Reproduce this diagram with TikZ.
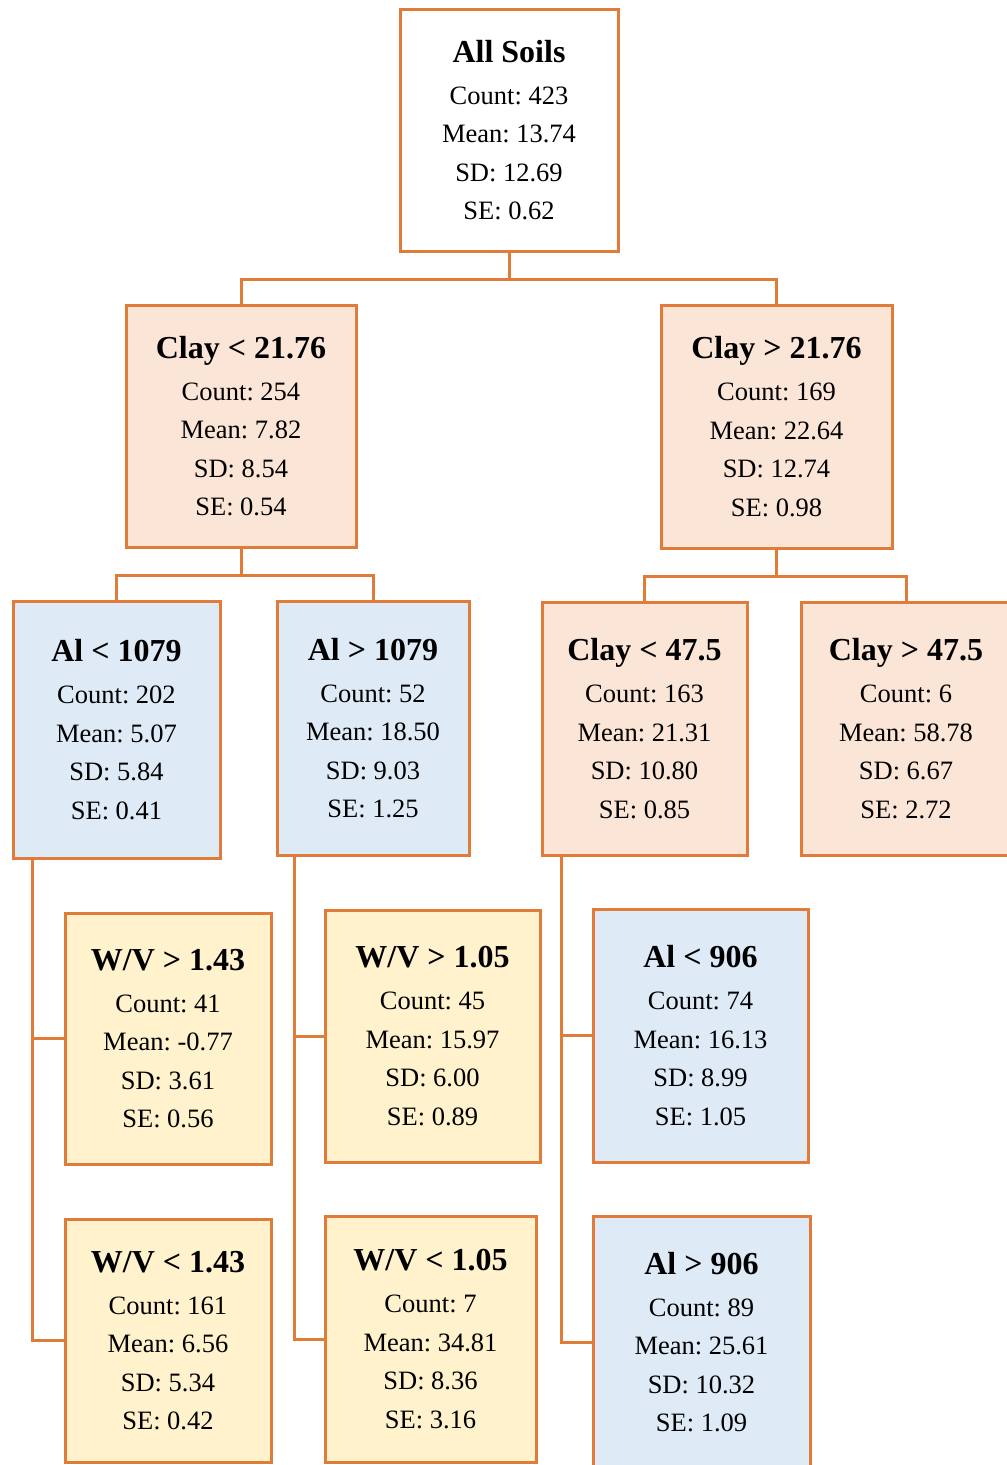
\documentclass[tikz,border=0pt]{standalone}
\usepackage{fontspec}
\setmainfont{Liberation Serif}
\frenchspacing
\definecolor{edge}{HTML}{E07B39}
\definecolor{peach}{HTML}{FBE5D6}
\definecolor{lblue}{HTML}{DEEBF7}
\definecolor{lyellow}{HTML}{FFF2CC}
\newcommand{\ttl}[1]{{\fontsize{32}{38.5}\selectfont\bfseries #1}\\[3.5pt]}
\tikzset{
  box/.style={draw=edge, line width=3pt, inner sep=0pt, align=center,
    font=\fontsize{26.5}{38.5}\selectfont\frenchspacing},
  conn/.style={draw=edge, line width=3pt}
}
\begin{document}
\begin{tikzpicture}[x=1pt,y=1pt]
\useasboundingbox (0,0) rectangle (1007,-1465);
\clip (0,0) rectangle (1007,-1465);
\node[box, fill=white, minimum width=218pt, minimum height=242pt] (root) at (509,-130)
  {\ttl{All Soils}Count: 423\\Mean: 13.74\\SD: 12.69\\SE: 0.62};
\node[box, fill=peach, minimum width=230pt, minimum height=242pt] (c1) at (241,-426)
  {\ttl{Clay < 21.76}Count: 254\\Mean: 7.82\\SD: 8.54\\SE: 0.54};
\node[box, fill=peach, minimum width=231pt, minimum height=243pt] (c2) at (776.5,-426.5)
  {\ttl{Clay > 21.76}Count: 169\\Mean: 22.64\\SD: 12.74\\SE: 0.98};
\node[box, fill=lblue, minimum width=207pt, minimum height=257pt] (a1) at (116.5,-729.5)
  {\ttl{Al < 1079}Count: 202\\Mean: 5.07\\SD: 5.84\\SE: 0.41};
\node[box, fill=lblue, minimum width=192pt, minimum height=254pt] (a2) at (373,-728)
  {\ttl{Al > 1079}Count: 52\\Mean: 18.50\\SD: 9.03\\SE: 1.25};
\node[box, fill=peach, minimum width=205pt, minimum height=253pt] (c3) at (644.5,-728.5)
  {\ttl{Clay < 47.5}Count: 163\\Mean: 21.31\\SD: 10.80\\SE: 0.85};
\node[box, fill=peach, minimum width=210pt, minimum height=253pt] (c4) at (906,-728.5)
  {\ttl{Clay > 47.5}Count: 6\\Mean: 58.78\\SD: 6.67\\SE: 2.72};
\node[box, fill=lyellow, minimum width=206pt, minimum height=251pt] (w1) at (168,-1038.5)
  {\ttl{W/V > 1.43}Count: 41\\Mean: -0.77\\SD: 3.61\\SE: 0.56};
\node[box, fill=lyellow, minimum width=206pt, minimum height=243pt] (w2) at (168,-1340.5)
  {\ttl{W/V < 1.43}Count: 161\\Mean: 6.56\\SD: 5.34\\SE: 0.42};
\node[box, fill=lyellow, minimum width=215pt, minimum height=252pt] (w3) at (432.5,-1036)
  {\ttl{W/V > 1.05}Count: 45\\Mean: 15.97\\SD: 6.00\\SE: 0.89};
\node[box, fill=lyellow, minimum width=211pt, minimum height=246pt] (w4) at (430.5,-1339)
  {\ttl{W/V < 1.05}Count: 7\\Mean: 34.81\\SD: 8.36\\SE: 3.16};
\node[box, fill=lblue, minimum width=215pt, minimum height=253pt] (a3) at (700.5,-1035.5)
  {\ttl{Al < 906}Count: 74\\Mean: 16.13\\SD: 8.99\\SE: 1.05};
\node[box, fill=lblue, minimum width=217pt, minimum height=252pt] (a4) at (701.5,-1342)
  {\ttl{Al > 906}Count: 89\\Mean: 25.61\\SD: 10.32\\SE: 1.09};
% connectors
\draw[conn] (root.south) -- ++(0,-27) -| (c1.north);
\draw[conn] (root.south) -- ++(0,-27) -| (c2.north);
\draw[conn] (c1.south) -- ++(0,-27) -| (a1.north);
\draw[conn] (c1.south) -- ++(0,-27) -| (a2.north);
\draw[conn] (c2.south) -- ++(0,-27) -| (c3.north);
\draw[conn] (c2.south) -- ++(0,-27) -| (c4.north);
\draw[conn] ([xshift=21pt]a1.south west) |- (w1.west);
\draw[conn] ([xshift=21pt]a1.south west) |- (w2.west);
\draw[conn] ([xshift=19pt]a2.south west) |- (w3.west);
\draw[conn] ([xshift=19pt]a2.south west) |- (w4.west);
\draw[conn] ([xshift=21pt]c3.south west) |- (a3.west);
\draw[conn] ([xshift=21pt]c3.south west) |- (a4.west);
\end{tikzpicture}
\end{document}
